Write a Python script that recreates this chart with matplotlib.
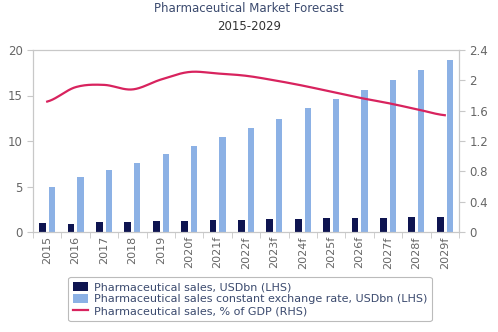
import numpy as np
import matplotlib.pyplot as plt

# dane
years = ['2015', '2016', '2017', '2018', '2019', '2020f', '2021f', '2022f',
         '2023f', '2024f', '2025f', '2026f', '2027f', '2028f', '2029f']
sales_usd = [0.95, 0.85, 1.05, 1.05, 1.17, 1.17, 1.3, 1.3,
             1.4, 1.4, 1.5, 1.5, 1.5, 1.6, 1.6]
sales_const = [5.0, 6.0, 6.8, 7.6, 8.6, 9.45, 10.4, 11.4,
               12.45, 13.6, 14.6, 15.6, 16.7, 17.8, 18.9]
pct_gdp = [1.72, 1.91, 1.94, 1.88, 2.01, 2.11, 2.09, 2.06,
           2.0, 1.93, 1.85, 1.77, 1.70, 1.62, 1.54]

navy = '#0e1450'
light = '#8cb1e5'
red = '#d8235e'
grey = '#c8c8c8'
txt = '#666666'

fig = plt.figure(figsize=(4.98, 3.32), dpi=100)
ax = fig.add_axes([33/498, 1 - 232/332, (459-33)/498, (232-50)/332])
ax2 = ax.twinx()

x = np.arange(len(years))
b1 = ax.bar(x - 0.16, sales_usd, width=0.24, color=navy)
b2 = ax.bar(x + 0.17, sales_const, width=0.22, color=light)

# wygładzona linia
xs = np.linspace(0, len(years) - 1, 300)
from numpy import interp
def smooth(xv, yv, xn):
    # spline Catmull-Rom
    yv = np.asarray(yv, float)
    out = []
    n = len(yv)
    for t in xn:
        i = min(int(np.floor(t)), n - 2)
        u = t - i
        p0 = yv[max(i - 1, 0)]; p1 = yv[i]; p2 = yv[i + 1]; p3 = yv[min(i + 2, n - 1)]
        out.append(0.5 * ((2 * p1) + (-p0 + p2) * u + (2 * p0 - 5 * p1 + 4 * p2 - p3) * u ** 2
                          + (-p0 + 3 * p1 - 3 * p2 + p3) * u ** 3))
    return np.array(out)
ln, = ax2.plot(xs, smooth(x, pct_gdp, xs), color=red, lw=1.6)

ax.set_xlim(-0.5, len(years) - 0.5)
ax.set_ylim(0, 20)
ax2.set_ylim(0, 2.4)
ax.set_yticks([0, 5, 10, 15, 20])
ax2.set_yticks([0, 0.4, 0.8, 1.2, 1.6, 2, 2.4])
ax2.set_yticklabels(['0', '0.4', '0.8', '1.2', '1.6', '2', '2.4'])
ax.set_xticks(x)
ax.set_xticklabels(years, rotation=90)
ax.set_xticks(np.arange(-0.5, len(years)), minor=True)
ax.tick_params(axis='x', which='major', length=0, colors=txt, labelsize=8, pad=3)
ax.tick_params(axis='x', which='minor', length=4, color=grey, direction='out')
ax.tick_params(axis='y', colors=txt, labelsize=8.5, length=4, color=grey)
ax2.tick_params(axis='y', colors=txt, labelsize=8.5, length=4, color=grey)

for a in (ax, ax2):
    for s in a.spines.values():
        s.set_color(grey)
        s.set_linewidth(0.8)

fig.text(0.5, 1 - 9/332, 'Pharmaceutical Market Forecast', ha='center', va='center',
         fontsize=8.5, color='#3b4a6e')
fig.text(0.5, 1 - 27/332, '2015-2029', ha='center', va='center',
         fontsize=8.5, color='#333333')

leg = fig.legend([b1, b2, ln],
                 ['Pharmaceutical sales, USDbn (LHS)',
                  'Pharmaceutical sales constant exchange rate, USDbn (LHS)',
                  'Pharmaceutical sales, % of GDP (RHS)'],
                 loc='center', bbox_to_anchor=(250/498, 1 - 299/332),
                 fontsize=8, frameon=True, handlelength=1.4, handleheight=0.9,
                 labelspacing=0.15, borderpad=0.4, handletextpad=0.5,
                 labelcolor='#3b4a6e')
leg.get_frame().set_edgecolor('#aaaaaa')
leg.get_frame().set_linewidth(0.8)

fig.savefig('out.png', dpi=100)
